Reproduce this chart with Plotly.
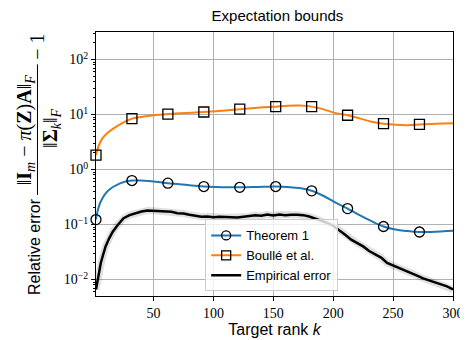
import plotly.graph_objects as go

# target rank grid for the two bound curves
k_bound = [2, 4, 7, 12, 22, 32, 42, 52, 62, 72, 82, 92, 102, 112, 122, 132, 142, 152,
           162, 172, 182, 192, 202, 212, 222, 232, 242, 252, 262, 272, 282, 292, 300]
theorem1 = [0.123, 0.20, 0.29, 0.41, 0.56, 0.63, 0.625, 0.60, 0.565, 0.54, 0.51, 0.49,
            0.48, 0.475, 0.475, 0.48, 0.485, 0.49, 0.48, 0.46, 0.41, 0.33, 0.25, 0.195,
            0.148, 0.115, 0.092, 0.081, 0.076, 0.073, 0.073, 0.075, 0.077]
boulle = [1.82, 2.6, 3.6, 4.7, 6.6, 8.4, 9.2, 9.8, 10.2, 10.5, 10.8, 11.1, 11.5, 12.0,
          12.5, 13.0, 13.5, 13.9, 14.4, 14.5, 13.9, 12.4, 10.6, 9.7, 8.5, 7.4, 6.8, 6.5,
          6.4, 6.6, 6.75, 6.85, 6.9]
marker_ranks = [2, 32, 62, 92, 122, 152, 182, 212, 242, 272]

# empirical error (noisy curve)
k_emp = [2, 4, 6, 8, 10, 13, 16, 20, 25, 30, 35, 40, 45, 50, 55, 60, 65, 70, 75, 80, 85,
         90, 95, 100, 105, 110, 115, 120, 125, 130, 135, 140, 145, 150, 155, 160, 165,
         170, 175, 180, 185, 190, 195, 200, 205, 210, 215, 220, 225, 230, 235, 240, 245,
         250, 255, 260, 265, 270, 275, 280, 285, 290, 295, 300]
empirical = [0.0066, 0.0126, 0.020, 0.0285, 0.040, 0.056, 0.074, 0.097, 0.130, 0.148,
             0.162, 0.172, 0.180, 0.178, 0.175, 0.177, 0.170, 0.160, 0.158, 0.150, 0.142,
             0.138, 0.140, 0.136, 0.138, 0.135, 0.136, 0.134, 0.138, 0.140, 0.148, 0.144,
             0.152, 0.146, 0.152, 0.147, 0.151, 0.150, 0.148, 0.140, 0.128, 0.118, 0.107,
             0.095, 0.080, 0.065, 0.053, 0.046, 0.040, 0.033, 0.029, 0.025, 0.020, 0.018,
             0.0165, 0.0150, 0.0132, 0.0118, 0.0105, 0.0097, 0.0090, 0.0082, 0.0075, 0.0066]

x_ticks = [50, 100, 150, 200, 250, 300]
y_exps = [-2, -1, 0, 1, 2]
y_ticks = [10.0 ** e for e in y_exps]
y_ticktext = ["10<sup>%s</sup>" % str(e).replace("-", "−") for e in y_exps]
y_minor = [m * 10.0 ** e for e in range(-3, 3) for m in range(2, 10)]

BLUE = "#1f77b4"
ORANGE = "#ff7f0e"
SERIF = "Liberation Serif"
SANS = "Liberation Sans"

# plot-area pixel box
W, H = 468, 340
L, R, T, B = 88, 17, 24, 47
PW, PH = W - L - R, H - T - B


def px(x, y):
    return (x - L) / PW, (H - B - y) / PH


fig = go.Figure()

fig.add_trace(go.Scatter(x=k_emp, y=empirical, mode="lines", showlegend=False, hoverinfo="skip",
                         line=dict(color="rgba(0,0,0,0.12)", width=7)))
fig.add_trace(go.Scatter(x=k_bound, y=theorem1, mode="lines", showlegend=False,
                         line=dict(color=BLUE, width=2, shape="spline")))
fig.add_trace(go.Scatter(x=k_bound, y=boulle, mode="lines", showlegend=False,
                         line=dict(color=ORANGE, width=2, shape="spline")))
fig.add_trace(go.Scatter(x=k_emp, y=empirical, mode="lines", showlegend=False,
                         line=dict(color="black", width=2.5)))

for ys, sym in [(theorem1, "circle-open"), (boulle, "square-open")]:
    mx = [k for k in k_bound if k in marker_ranks]
    my = [v for k, v in zip(k_bound, ys) if k in marker_ranks]
    fig.add_trace(go.Scatter(x=mx, y=my, mode="markers", showlegend=False, cliponaxis=False,
                             marker=dict(symbol=sym, size=10, color="black", line=dict(width=1.3))))

# legend entries
for name, col, sym in [("Theorem 1", BLUE, "circle-open"), ("Boullé et al.", ORANGE, "square-open")]:
    fig.add_trace(go.Scatter(x=[None], y=[None], mode="lines+markers", name=name,
                             line=dict(color=col, width=2),
                             marker=dict(symbol=sym, size=9, color="black", line=dict(width=1.3))))
fig.add_trace(go.Scatter(x=[None], y=[None], mode="lines", name="Empirical error",
                         line=dict(color="black", width=2.5)))

# y-axis label built as a rotated fraction
math_font = dict(family=SERIF, size=20, color="black")
anns = [
    dict(text="Relative error", pos=px(26, 243), font=dict(family=SANS, size=16, color="black")),
    dict(text="‖<b>I</b><sub><i>m</i></sub> − <i>π</i>(<b>Z</b>)<b>A</b>‖<sub><i>F</i></sub>",
         pos=px(16, 124), font=math_font),
    dict(text="‖<b>Σ</b><sub><i>k</i></sub>‖<sub><i>F</i></sub>", pos=px(42, 122), font=math_font),
    dict(text="− 1", pos=px(28, 39), font=math_font),
]
for a in anns:
    fig.add_annotation(text=a["text"], x=a["pos"][0], y=a["pos"][1], xref="paper", yref="paper",
                       xanchor="center", yanchor="middle", textangle=-90, showarrow=False,
                       font=a["font"])
b0 = px(28.5, 190)
b1 = px(28.5, 57)
fig.add_shape(type="line", xref="paper", yref="paper", x0=b0[0], x1=b1[0], y0=b0[1], y1=b1[1],
              line=dict(color="black", width=1))

fig.update_layout(
    width=W, height=H,
    margin=dict(l=L, r=R, t=T, b=B),
    plot_bgcolor="white", paper_bgcolor="white",
    title=dict(text="Expectation bounds", x=(L + PW / 2) / W, xanchor="center",
               y=1 - 8 / H, yanchor="middle", font=dict(family=SANS, size=15, color="black")),
    legend=dict(x=px(199, 0)[0], y=px(0, 215)[1], xanchor="left", yanchor="top",
                bgcolor="rgba(255,255,255,0.8)", bordercolor="#cccccc", borderwidth=1,
                font=dict(family=SANS, size=13, color="black"), tracegroupgap=0),
    showlegend=True,
)
fig.update_xaxes(
    range=[2, 300], tickvals=x_ticks, ticks="outside", ticklen=4, tickcolor="black",
    showline=True, linecolor="black", linewidth=1, mirror=True,
    showgrid=True, gridcolor="#b0b0b0", gridwidth=1, zeroline=False,
    tickfont=dict(family=SERIF, size=14, color="black"),
    title=dict(text="Target rank <i>k</i>", font=dict(family=SANS, size=16, color="black"), standoff=4),
)
fig.update_yaxes(
    type="log", range=[-2.3, 2.5], tickvals=y_ticks, ticktext=y_ticktext,
    ticks="outside", ticklen=4, tickcolor="black",
    minor=dict(tickvals=y_minor, ticks="outside", ticklen=2, tickcolor="black", showgrid=False),
    showline=True, linecolor="black", linewidth=1, mirror=True,
    showgrid=True, gridcolor="#b0b0b0", gridwidth=1, zeroline=False,
    tickfont=dict(family=SERIF, size=14, color="black"),
)

fig.write_html("out.html")
